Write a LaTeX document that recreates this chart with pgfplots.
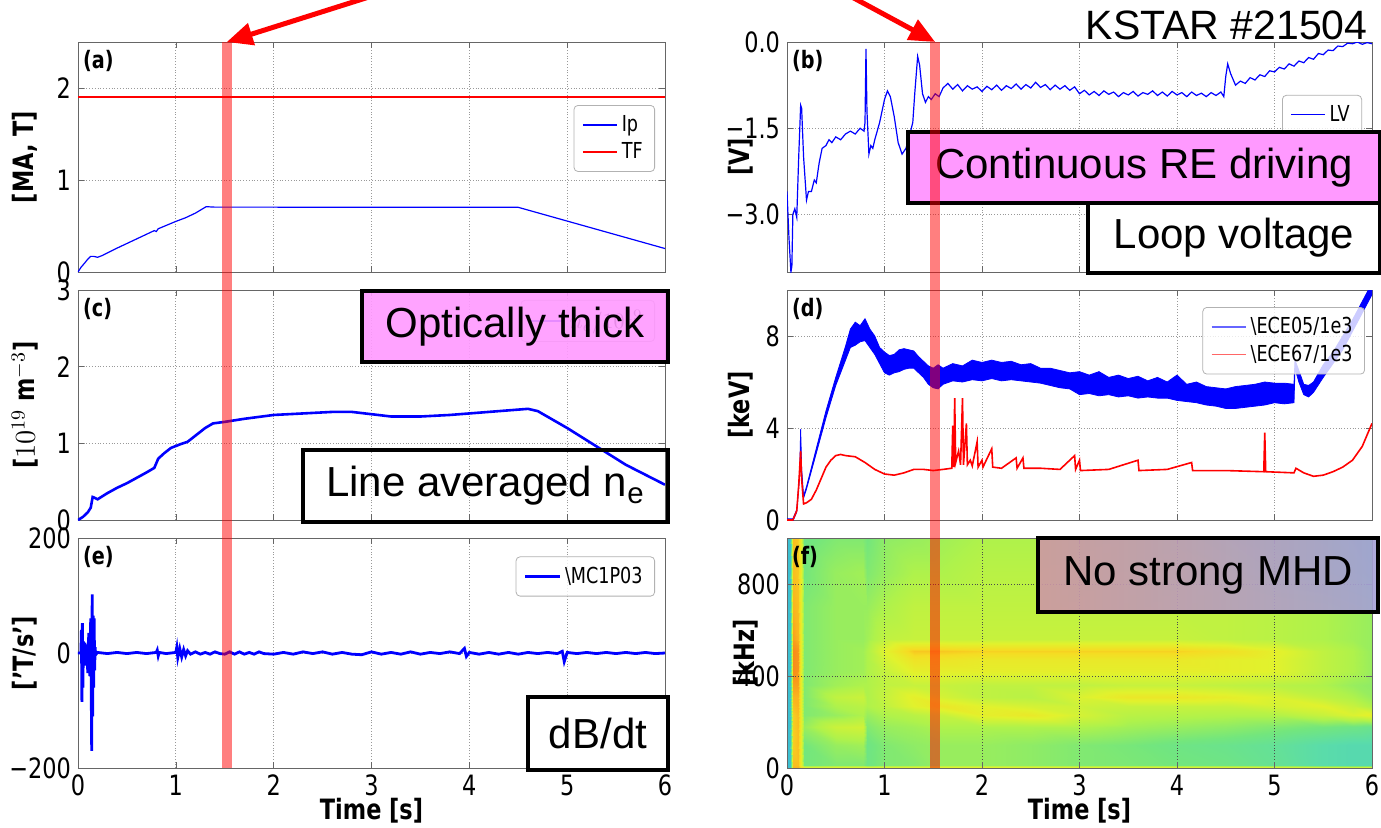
\documentclass[border=0pt]{standalone}
\usepackage{pgfplots}
\pgfplotsset{compat=1.18}
\usetikzlibrary{arrows.meta}
\usepackage{fontspec}
\setmainfont{DejaVu Sans}[FakeStretch=0.8]
\newfontfamily\annot{Liberation Sans}
\definecolor{mag}{RGB}{255,153,255}
\definecolor{mhdL}{RGB}{205,150,165}
\definecolor{mhdR}{RGB}{165,160,215}
\newcommand\tfont{\fontsize{14}{16}\selectfont}
\newcommand\lfont{\fontsize{14}{16}\selectfont\bfseries}
\newcommand\pfont{\fontsize{12}{14}\selectfont\bfseries}
\newcommand\gfont{\fontsize{11}{13}\selectfont}
\newcommand\afont{\annot\fontsize{21}{24}\selectfont}
\pgfplotsset{
  panel/.style={scale only axis, height=115pt, xmin=0, xmax=6,
    xtick={0,1,2,3,4,5,6}, xticklabels={}, grid=major,
    grid style={densely dotted, gray!80}, axis line style={black!60},
    tick style={black!60}, tick align=inside, major tick length=3pt,
    tick label style={font=\tfont}, label style={font=\lfont},
    xlabel style={at={(rel axis cs:0.5,0)}, anchor=center, yshift=-21.5pt},
    legend cell align=left,
    legend style={font=\gfont, draw=black!30, rounded corners=2pt, fill=white,
      fill opacity=0.8, text opacity=1, anchor=north east, inner xsep=4pt, inner ysep=3pt},
    every axis plot/.append style={no markers}},
  L/.style={panel, width=293.5pt, ylabel style={at={(rel axis cs:-0.09,0.5)}, anchor=center}},
  R/.style={panel, width=292.5pt, ylabel style={at={(rel axis cs:-0.079,0.5)}, anchor=center}},
}
\begin{document}
\begin{tikzpicture}
\useasboundingbox (0,0) rectangle (690.5pt,413.5pt);
% (a)
\begin{axis}[L, at={(39pt,277.5pt)}, anchor=south west, ymin=0, ymax=2.5,
  ytick={0,1,2}, yticklabels={0,1,2}, ylabel={[MA, T]},
  legend style={at={(rel axis cs:0.983,0.726)}}]
\addplot[color=blue, line width=0.6pt] coordinates {(0,0) (0.03,0.05) (0.07,0.10) (0.1,0.14) (0.13,0.17) (0.16,0.17) (0.2,0.16) (0.25,0.18) (0.4,0.26) (0.6,0.36) (0.78,0.45) (0.8,0.44) (0.82,0.47) (1.0,0.55) (1.1,0.59) (1.2,0.64) (1.31,0.71) (1.4,0.705) (2,0.705) (3,0.703) (4,0.703) (4.5,0.703) (6.0,0.255)};
\addlegendentry{Ip}
\addplot[color=red, line width=0.8pt] coordinates {(0,1.9) (6,1.9)};
\addlegendentry{TF}
\node[anchor=north west, font=\pfont, inner sep=0pt] at (rel axis cs:0.008,0.965) {(a)};
\end{axis}
% (c)
\begin{axis}[L, at={(39pt,153.5pt)}, anchor=south west, ymin=0, ymax=3,
  ytick={0,1,2,3}, yticklabels={0,1,2,3}, ylabel={[$10^{19}$ m$^{-3}$]},
  legend style={at={(rel axis cs:0.983,0.957)}}]
\addplot[color=blue, line width=1.3pt] coordinates {(0,0) (0.05,0.04) (0.1,0.1) (0.13,0.16) (0.15,0.3) (0.17,0.29) (0.2,0.27) (0.3,0.35) (0.4,0.42) (0.5,0.48) (0.6,0.55) (0.7,0.62) (0.78,0.68) (0.82,0.8) (0.88,0.87) (0.95,0.94) (1.05,0.99) (1.12,1.02) (1.2,1.1) (1.3,1.2) (1.38,1.26) (1.5,1.28) (1.7,1.32) (2.0,1.37) (2.3,1.39) (2.6,1.41) (2.8,1.41) (3.0,1.38) (3.2,1.35) (3.5,1.35) (3.8,1.37) (4.1,1.4) (4.4,1.43) (4.6,1.45) (4.7,1.42) (5.0,1.2) (5.3,0.96) (5.6,0.72) (6.0,0.46)};
\addlegendentry{$\bar{n}_e/10^{19}$}
\node[anchor=north west, font=\pfont, inner sep=0pt] at (rel axis cs:0.008,0.965) {(c)};
\end{axis}
% (e)
\begin{axis}[L, at={(39pt,29.5pt)}, anchor=south west, ymin=-200, ymax=200,
  ytick={-200,0,200}, yticklabels={−200,0,200}, ylabel={['T/s']},
  xticklabels={0,1,2,3,4,5,6}, xlabel={Time [s]},
  legend style={at={(rel axis cs:0.983,0.92)}}]
\addplot[color=blue, line width=1.4pt] coordinates {(0,0) (0.03,0) (0.035,40) (0.04,-85) (0.045,52) (0.05,-60) (0.055,20) (0.06,-15) (0.07,18) (0.08,-22) (0.09,15) (0.1,-35) (0.11,35) (0.12,-40) (0.13,60) (0.14,-170) (0.145,102) (0.15,-110) (0.155,65) (0.16,-60) (0.165,60) (0.17,-30) (0.175,10) (0.18,-3) (0.2,1) (0.3,-1) (0.4,1) (0.5,-1) (0.6,1) (0.7,-1) (0.8,1) (0.81,5) (0.82,-5) (0.83,1) (0.9,-1) (1.0,1) (1.01,10) (1.02,-8) (1.04,8) (1.06,-7) (1.08,6) (1.1,-5) (1.12,4) (1.15,-2) (1.2,2) (1.25,-2) (1.3,1) (1.35,-2) (1.4,2) (1.45,-1) (1.5,-2) (1.55,2) (1.6,-2) (1.65,2) (1.7,-2) (1.75,1) (1.8,-2) (1.85,2) (1.9,-1) (2.0,-2) (2.1,1) (2.2,-2) (2.3,2) (2.4,-1) (2.5,2) (2.6,-2) (2.7,1) (2.8,-2) (2.9,-3) (3.0,2) (3.1,-2) (3.2,1) (3.3,-2) (3.4,2) (3.5,-2) (3.6,1) (3.7,-1) (3.8,2) (3.9,-1) (3.95,8) (3.97,-6) (4.0,1) (4.1,-2) (4.2,1) (4.3,-2) (4.4,1) (4.5,-2) (4.6,1) (4.7,-1) (4.8,1) (4.9,-1) (4.95,3) (4.97,-15) (5.0,1) (5.1,-1) (5.2,1) (5.3,-1) (5.4,1) (5.5,-1) (5.6,1) (5.7,-1) (5.8,1) (5.9,-1) (6.0,0)};
\addlegendentry{\textbackslash MC1P03}
\node[anchor=north west, font=\pfont, inner sep=0pt] at (rel axis cs:0.008,0.965) {(e)};
\end{axis}
% (b)
\begin{axis}[R, at={(393.5pt,277.5pt)}, anchor=south west, ymin=-4, ymax=0,
  ytick={-3,-1.5,0}, yticklabels={−3.0,−1.5,0.0}, ylabel={[V]},
  legend style={at={(rel axis cs:0.983,0.77)}}]
\addplot[color=blue, line width=0.6pt] coordinates {(0.0,-2.6) (0.02,-3.4) (0.04,-4.0) (0.05,-3.9) (0.06,-3.0) (0.08,-2.9) (0.1,-3.05) (0.12,-2.0) (0.14,-1.1) (0.15,-1.15) (0.17,-2.0) (0.2,-2.75) (0.22,-2.6) (0.25,-2.6) (0.28,-2.4) (0.3,-2.45) (0.33,-2.1) (0.36,-1.85) (0.4,-1.8) (0.43,-1.7) (0.46,-1.75) (0.5,-1.65) (0.55,-1.7) (0.6,-1.6) (0.65,-1.55) (0.7,-1.6) (0.75,-1.5) (0.79,-1.55) (0.8,-1.4) (0.81,-0.12) (0.82,-1.2) (0.84,-1.95) (0.86,-1.8) (0.88,-1.85) (0.9,-1.7) (0.95,-1.4) (1.0,-1.0) (1.03,-0.85) (1.06,-0.95) (1.1,-1.3) (1.14,-1.75) (1.18,-1.95) (1.22,-1.85) (1.26,-1.6) (1.29,-1.4) (1.31,-0.9) (1.34,-0.25) (1.36,-0.4) (1.39,-0.9) (1.42,-1.05) (1.45,-0.95) (1.48,-1.0) (1.52,-0.9) (1.56,-0.95)
(1.60,-0.80) (1.65,-0.72) (1.70,-0.82) (1.75,-0.74) (1.80,-0.85) (1.85,-0.76) (1.90,-0.82) (1.95,-0.78) (2.00,-0.86) (2.05,-0.77) (2.10,-0.83) (2.15,-0.75) (2.20,-0.84) (2.25,-0.76) (2.30,-0.81) (2.35,-0.73) (2.40,-0.82) (2.45,-0.74) (2.50,-0.80) (2.55,-0.70) (2.60,-0.79) (2.65,-0.74) (2.70,-0.83) (2.75,-0.75) (2.80,-0.82) (2.85,-0.76) (2.90,-0.84) (2.95,-0.78) (3.00,-0.90) (3.05,-0.84) (3.10,-0.92) (3.15,-0.86) (3.2,-0.93) (3.25,-0.85) (3.3,-0.91) (3.35,-0.87) (3.4,-0.95) (3.45,-0.88) (3.5,-0.92) (3.55,-0.86) (3.6,-0.94) (3.65,-0.88) (3.7,-0.91) (3.75,-0.85) (3.8,-0.93) (3.85,-0.87) (3.9,-0.94) (3.95,-0.86) (4.0,-0.92) (4.05,-0.88) (4.1,-0.95) (4.15,-0.87) (4.2,-0.93) (4.25,-0.89) (4.3,-0.95) (4.35,-0.88) (4.4,-0.93) (4.45,-0.87) (4.48,-0.95) (4.5,-0.6) (4.52,-0.38) (4.55,-0.55) (4.6,-0.75) (4.65,-0.68) (4.7,-0.72) (4.75,-0.62) (4.8,-0.66) (4.85,-0.57) (4.9,-0.6) (4.95,-0.5) (5.0,-0.52) (5.05,-0.44) (5.1,-0.47) (5.15,-0.38) (5.2,-0.42) (5.25,-0.33) (5.3,-0.36) (5.35,-0.27) (5.4,-0.3) (5.45,-0.2) (5.5,-0.22) (5.55,-0.14) (5.6,-0.15) (5.65,-0.07) (5.7,-0.08) (5.75,-0.02) (5.8,-0.03) (5.85,0.0) (5.9,-0.04) (5.95,-0.01) (6.0,-0.03)};
\addlegendentry{LV}
\node[anchor=north west, font=\pfont, inner sep=0pt] at (rel axis cs:0.008,0.965) {(b)};
\end{axis}
% (d)
\begin{axis}[R, at={(393.5pt,153.5pt)}, anchor=south west, ymin=0, ymax=10,
  ytick={0,4,8}, yticklabels={0,4,8}, ylabel={[keV]},
  legend style={at={(rel axis cs:0.988,0.926)}}]
\addplot[color=blue, fill=blue, line width=0.4pt, forget plot] coordinates {(0,0.05) (0.06,0.05) (0.1,0.45) (0.13,2.05) (0.14,3.95) (0.15,2.25) (0.17,1.05) (0.2,1.45) (0.3,3.1) (0.4,4.75) (0.5,6.2) (0.6,7.55) (0.65,8.3) (0.7,8.6) (0.75,8.45) (0.8,8.75) (0.85,8.3) (0.9,8.0) (0.95,7.5) (1.0,7.3) (1.05,7.15) (1.1,7.2) (1.15,7.4) (1.2,7.45) (1.25,7.4) (1.3,7.35) (1.35,7.1) (1.4,6.9) (1.45,6.7) (1.5,6.6) (1.55,6.75) (1.6,6.6) (1.7,6.8) (1.8,6.7) (1.9,6.95) (2.0,6.85) (2.1,6.95) (2.2,6.85) (2.3,6.9) (2.4,6.75) (2.5,6.8) (2.6,6.6) (2.7,6.6) (2.8,6.5) (2.9,6.4) (3.0,6.45) (3.1,6.3) (3.2,6.45) (3.3,6.2) (3.4,6.3) (3.5,6.15) (3.6,6.25) (3.7,6.05) (3.8,6.2) (3.9,6.0) (4.0,6.3) (4.1,5.9) (4.2,6.0) (4.3,5.8) (4.4,5.75) (4.5,5.7) (4.6,5.8) (4.7,5.85) (4.8,5.9) (4.9,6.0) (5.0,5.95) (5.1,5.95) (5.2,5.9) (5.21,6.95) (5.25,6.5) (5.3,5.9) (5.35,5.85) (5.4,6.0) (5.5,6.75) (5.6,7.3) (5.7,8.0) (5.8,8.7) (5.9,9.5) (6.0,10.3)
(6.0,9.8) (5.9,9.0) (5.8,8.2) (5.7,7.4) (5.6,6.8) (5.5,6.2) (5.4,5.55) (5.35,5.35) (5.3,5.45) (5.25,6.0) (5.21,6.6) (5.2,5.1) (5.1,5.05) (5.0,5.1) (4.9,5.0) (4.8,4.95) (4.7,4.9) (4.6,4.85) (4.5,4.85) (4.4,4.95) (4.3,5.0) (4.2,5.1) (4.1,5.15) (4.0,5.2) (3.9,5.3) (3.8,5.3) (3.7,5.35) (3.6,5.3) (3.5,5.4) (3.4,5.35) (3.3,5.45) (3.2,5.4) (3.1,5.5) (3.0,5.45) (2.9,5.7) (2.8,5.75) (2.7,5.85) (2.6,5.95) (2.5,6.0) (2.4,6.05) (2.3,6.1) (2.2,6.05) (2.1,6.15) (2.0,6.05) (1.9,6.1) (1.8,6.0) (1.7,6.05) (1.6,5.9) (1.55,5.7) (1.5,5.75) (1.45,5.9) (1.4,6.2) (1.35,6.4) (1.3,6.6) (1.25,6.6) (1.2,6.55) (1.15,6.45) (1.1,6.4) (1.05,6.3) (1.0,6.4) (0.95,6.8) (0.9,7.2) (0.85,7.5) (0.8,7.8) (0.75,7.75) (0.7,7.6) (0.65,7.5) (0.6,6.95) (0.5,5.85) (0.4,4.45) (0.3,2.9) (0.2,1.35) (0.17,0.95) (0.15,2.15) (0.14,3.85) (0.13,1.95) (0.1,0.35) (0.06,-0.05) (0,-0.05)};
\addplot[color=red, line width=0.8pt, forget plot] coordinates {(0,0) (0.06,0) (0.1,0.4) (0.12,1.5) (0.14,3.0) (0.15,1.8) (0.17,0.7) (0.2,0.75) (0.25,0.9) (0.3,1.3) (0.35,1.8) (0.4,2.3) (0.45,2.6) (0.5,2.8) (0.55,2.85) (0.6,2.8) (0.7,2.75) (0.8,2.5) (0.9,2.2) (1.0,2.0) (1.1,1.95) (1.2,2.05) (1.3,2.2) (1.4,2.2) (1.5,2.15) (1.6,2.2) (1.69,2.25) (1.7,4.1) (1.71,2.3) (1.72,5.3) (1.73,2.5) (1.76,3.0) (1.78,2.4) (1.8,5.3) (1.81,2.4) (1.84,4.2) (1.85,2.4) (1.88,2.6) (1.9,2.35) (1.95,3.4) (1.96,2.3) (2.0,2.6) (2.01,2.3) (2.1,3.1) (2.11,2.3) (2.2,2.25) (2.35,2.7) (2.36,2.25) (2.42,2.7) (2.43,2.25) (2.6,2.25) (2.8,2.2) (2.95,2.8) (2.96,2.2) (3.0,2.6) (3.01,2.15) (3.3,2.2) (3.6,2.6) (3.61,2.15) (3.9,2.2) (4.15,2.5) (4.16,2.15) (4.5,2.15) (4.89,2.1) (4.9,3.8) (4.91,2.1) (5.2,2.05) (5.22,2.25) (5.3,2.05) (5.4,1.9) (5.5,1.95) (5.6,2.1) (5.7,2.3) (5.8,2.6) (5.9,3.2) (6.0,4.2)};
\addlegendimage{blue!60, line width=0.8pt}
\addlegendentry{\textbackslash ECE05/1e3}
\addlegendimage{red!60, line width=0.8pt}
\addlegendentry{\textbackslash ECE67/1e3}
\node[anchor=north west, font=\pfont, inner sep=0pt] at (rel axis cs:0.008,0.965) {(d)};
\end{axis}
% (f)
\begin{axis}[R, at={(393.5pt,29.5pt)}, anchor=south west, ymin=0, ymax=1000,
  ytick={0,400,800}, yticklabels={0,400,800}, ylabel={[kHz]},
  ylabel style={at={(rel axis cs:-0.07,0.5)}},
  xticklabels={0,1,2,3,4,5,6}, xlabel={Time [s]}, axis on top,
  grid style={densely dotted, black!70},
  colormap={spec}{rgb255(0cm)=(40,170,235); rgb255(3cm)=(90,220,170); rgb255(4.2cm)=(115,230,125); rgb255(5.5cm)=(175,242,75); rgb255(7cm)=(225,242,45); rgb255(8.2cm)=(245,220,35); rgb255(9cm)=(250,180,30); rgb255(10cm)=(245,80,20)},
  point meta min=0, point meta max=1]
\addplot[surf, shader=interp, mesh/cols=22, mesh/rows=15, point meta=explicit] table[row sep=\\, meta index=2] {
t f c\\
0 0 0.1\\ 0.03 0 0.15\\ 0.06 0 0.9\\ 0.11 0 0.9\\ 0.14 0 0.8\\ 0.17 0 0.8\\ 0.5 0 0.8\\ 0.78 0 0.8\\ 0.82 0 0.8\\ 1.0 0 0.8\\ 1.3 0 0.8\\ 1.6 0 0.8\\ 2.0 0 0.8\\ 2.5 0 0.8\\ 3.0 0 0.8\\ 3.5 0 0.8\\ 4.0 0 0.8\\ 4.5 0 0.8\\ 5.0 0 0.8\\ 5.5 0 0.8\\ 5.8 0 0.8\\ 6.0 0 0.8\\
0 12 0.1\\ 0.03 12 0.15\\ 0.06 12 0.88\\ 0.11 12 0.88\\ 0.14 12 0.72\\ 0.17 12 0.42\\ 0.5 12 0.45\\ 0.78 12 0.45\\ 0.82 12 0.4\\ 1.0 12 0.45\\ 1.3 12 0.46\\ 1.6 12 0.5\\ 2.0 12 0.5\\ 2.5 12 0.48\\ 3.0 12 0.45\\ 3.5 12 0.44\\ 4.0 12 0.42\\ 4.5 12 0.4\\ 5.0 12 0.36\\ 5.5 12 0.3\\ 5.8 12 0.28\\ 6.0 12 0.28\\
0 100 0.1\\ 0.03 100 0.15\\ 0.06 100 0.85\\ 0.11 100 0.88\\ 0.14 100 0.72\\ 0.17 100 0.42\\ 0.5 100 0.5\\ 0.78 100 0.52\\ 0.82 100 0.4\\ 1.0 100 0.45\\ 1.3 100 0.48\\ 1.6 100 0.5\\ 2.0 100 0.5\\ 2.5 100 0.48\\ 3.0 100 0.45\\ 3.5 100 0.43\\ 4.0 100 0.4\\ 4.5 100 0.38\\ 5.0 100 0.35\\ 5.5 100 0.3\\ 5.8 100 0.28\\ 6.0 100 0.28\\
0 180 0.1\\ 0.03 180 0.15\\ 0.06 180 0.85\\ 0.11 180 0.88\\ 0.14 180 0.72\\ 0.17 180 0.5\\ 0.5 180 0.63\\ 0.78 180 0.65\\ 0.82 180 0.45\\ 1.0 180 0.5\\ 1.3 180 0.52\\ 1.6 180 0.55\\ 2.0 180 0.55\\ 2.5 180 0.55\\ 3.0 180 0.55\\ 3.5 180 0.52\\ 4.0 180 0.5\\ 4.5 180 0.48\\ 5.0 180 0.45\\ 5.5 180 0.42\\ 5.8 180 0.4\\ 6.0 180 0.38\\
0 230 0.1\\ 0.03 230 0.15\\ 0.06 230 0.85\\ 0.11 230 0.88\\ 0.14 230 0.72\\ 0.17 230 0.45\\ 0.5 230 0.5\\ 0.78 230 0.55\\ 0.82 230 0.5\\ 1.0 230 0.55\\ 1.3 230 0.58\\ 1.6 230 0.62\\ 2.0 230 0.72\\ 2.5 230 0.75\\ 3.0 230 0.66\\ 3.5 230 0.58\\ 4.0 230 0.57\\ 4.5 230 0.56\\ 5.0 230 0.56\\ 5.5 230 0.62\\ 5.8 230 0.68\\ 6.0 230 0.72\\
0 270 0.1\\ 0.03 270 0.15\\ 0.06 270 0.88\\ 0.11 270 0.9\\ 0.14 270 0.72\\ 0.17 270 0.45\\ 0.5 270 0.55\\ 0.78 270 0.58\\ 0.82 270 0.55\\ 1.0 270 0.6\\ 1.3 270 0.7\\ 1.6 270 0.76\\ 2.0 270 0.7\\ 2.5 270 0.66\\ 3.0 270 0.64\\ 3.5 270 0.62\\ 4.0 270 0.62\\ 4.5 270 0.62\\ 5.0 270 0.66\\ 5.5 270 0.7\\ 5.8 270 0.62\\ 6.0 270 0.55\\
0 310 0.1\\ 0.03 310 0.15\\ 0.06 310 0.9\\ 0.11 310 0.9\\ 0.14 310 0.72\\ 0.17 310 0.45\\ 0.5 310 0.6\\ 0.78 310 0.63\\ 0.82 310 0.55\\ 1.0 310 0.62\\ 1.3 310 0.72\\ 1.6 310 0.66\\ 2.0 310 0.6\\ 2.5 310 0.58\\ 3.0 310 0.68\\ 3.5 310 0.76\\ 4.0 310 0.76\\ 4.5 310 0.73\\ 5.0 310 0.68\\ 5.5 310 0.6\\ 5.8 310 0.55\\ 6.0 310 0.5\\
0 360 0.1\\ 0.03 360 0.15\\ 0.06 360 0.92\\ 0.11 360 0.92\\ 0.14 360 0.72\\ 0.17 360 0.45\\ 0.5 360 0.52\\ 0.78 360 0.55\\ 0.82 360 0.55\\ 1.0 360 0.6\\ 1.3 360 0.62\\ 1.6 360 0.62\\ 2.0 360 0.6\\ 2.5 360 0.6\\ 3.0 360 0.6\\ 3.5 360 0.62\\ 4.0 360 0.62\\ 4.5 360 0.6\\ 5.0 360 0.58\\ 5.5 360 0.55\\ 5.8 360 0.5\\ 6.0 360 0.48\\
0 420 0.1\\ 0.03 420 0.15\\ 0.06 420 0.94\\ 0.11 420 0.93\\ 0.14 420 0.72\\ 0.17 420 0.45\\ 0.5 420 0.5\\ 0.78 420 0.52\\ 0.82 420 0.55\\ 1.0 420 0.62\\ 1.3 420 0.72\\ 1.6 420 0.72\\ 2.0 420 0.72\\ 2.5 420 0.72\\ 3.0 420 0.72\\ 3.5 420 0.72\\ 4.0 420 0.72\\ 4.5 420 0.72\\ 5.0 420 0.7\\ 5.5 420 0.6\\ 5.8 420 0.55\\ 6.0 420 0.5\\
0 470 0.1\\ 0.03 470 0.15\\ 0.06 470 0.94\\ 0.11 470 0.93\\ 0.14 470 0.72\\ 0.17 470 0.45\\ 0.5 470 0.5\\ 0.78 470 0.52\\ 0.82 470 0.55\\ 1.0 470 0.66\\ 1.3 470 0.78\\ 1.6 470 0.77\\ 2.0 470 0.75\\ 2.5 470 0.75\\ 3.0 470 0.75\\ 3.5 470 0.75\\ 4.0 470 0.75\\ 4.5 470 0.72\\ 5.0 470 0.7\\ 5.5 470 0.6\\ 5.8 470 0.55\\ 6.0 470 0.5\\
0 510 0.1\\ 0.03 510 0.15\\ 0.06 510 0.94\\ 0.11 510 0.93\\ 0.14 510 0.72\\ 0.17 510 0.45\\ 0.5 510 0.5\\ 0.78 510 0.52\\ 0.82 510 0.55\\ 1.0 510 0.7\\ 1.3 510 0.86\\ 1.6 510 0.86\\ 2.0 510 0.84\\ 2.5 510 0.84\\ 3.0 510 0.84\\ 3.5 510 0.84\\ 4.0 510 0.84\\ 4.5 510 0.8\\ 5.0 510 0.72\\ 5.5 510 0.6\\ 5.8 510 0.55\\ 6.0 510 0.5\\
0 560 0.1\\ 0.03 560 0.15\\ 0.06 560 0.92\\ 0.11 560 0.9\\ 0.14 560 0.72\\ 0.17 560 0.45\\ 0.5 560 0.5\\ 0.78 560 0.5\\ 0.82 560 0.52\\ 1.0 560 0.6\\ 1.3 560 0.62\\ 1.6 560 0.62\\ 2.0 560 0.62\\ 2.5 560 0.62\\ 3.0 560 0.62\\ 3.5 560 0.62\\ 4.0 560 0.62\\ 4.5 560 0.6\\ 5.0 560 0.58\\ 5.5 560 0.55\\ 5.8 560 0.52\\ 6.0 560 0.5\\
0 700 0.1\\ 0.03 700 0.15\\ 0.06 700 0.9\\ 0.11 700 0.88\\ 0.14 700 0.72\\ 0.17 700 0.45\\ 0.5 700 0.5\\ 0.78 700 0.5\\ 0.82 700 0.5\\ 1.0 700 0.55\\ 1.3 700 0.6\\ 1.6 700 0.6\\ 2.0 700 0.6\\ 2.5 700 0.6\\ 3.0 700 0.6\\ 3.5 700 0.6\\ 4.0 700 0.6\\ 4.5 700 0.6\\ 5.0 700 0.58\\ 5.5 700 0.55\\ 5.8 700 0.52\\ 6.0 700 0.5\\
0 850 0.1\\ 0.03 850 0.15\\ 0.06 850 0.88\\ 0.11 850 0.86\\ 0.14 850 0.72\\ 0.17 850 0.42\\ 0.5 850 0.5\\ 0.78 850 0.52\\ 0.82 850 0.45\\ 1.0 850 0.5\\ 1.3 850 0.55\\ 1.6 850 0.55\\ 2.0 850 0.58\\ 2.5 850 0.58\\ 3.0 850 0.58\\ 3.5 850 0.58\\ 4.0 850 0.58\\ 4.5 850 0.55\\ 5.0 850 0.5\\ 5.5 850 0.48\\ 5.8 850 0.45\\ 6.0 850 0.42\\
0 1000 0.1\\ 0.03 1000 0.15\\ 0.06 1000 0.88\\ 0.11 1000 0.86\\ 0.14 1000 0.72\\ 0.17 1000 0.4\\ 0.5 1000 0.45\\ 0.78 1000 0.45\\ 0.82 1000 0.42\\ 1.0 1000 0.48\\ 1.3 1000 0.5\\ 1.6 1000 0.52\\ 2.0 1000 0.55\\ 2.5 1000 0.55\\ 3.0 1000 0.55\\ 3.5 1000 0.55\\ 4.0 1000 0.55\\ 4.5 1000 0.5\\ 5.0 1000 0.48\\ 5.5 1000 0.45\\ 5.8 1000 0.42\\ 6.0 1000 0.4\\
};
\node[anchor=north west, font=\pfont, inner sep=0pt] at (rel axis cs:0.008,0.965) {(f)};
\end{axis}
% annotation boxes
\node[draw=black, line width=2pt, fill=mag, minimum width=236pt, minimum height=35.5pt, inner sep=0pt, font=\afont] at (572pt,329.75pt) {Continuous RE driving};
\node[draw=black, line width=2pt, fill=white, minimum width=146pt, minimum height=35pt, inner sep=0pt, font=\afont] at (617pt,294.5pt) {Loop voltage};
\node[draw=black, line width=2pt, fill=mag, fill opacity=0.9, text opacity=1, minimum width=153pt, minimum height=35.5pt, inner sep=0pt, font=\afont] at (257.5pt,250.25pt) {Optically thick};
\node[draw=black, line width=2pt, minimum width=182.5pt, minimum height=36pt, inner sep=0pt, font=\afont] at (242.75pt,170.5pt) {Line averaged n\textsubscript{e}};
\node[draw=black, line width=2pt, fill=white, minimum width=70pt, minimum height=36.5pt, inner sep=0pt, font=\afont] at (299pt,46.75pt) {dB/dt};
\node[draw=black, line width=2pt, left color=mhdL, right color=mhdR, fill opacity=0.9, text opacity=1, minimum width=170pt, minimum height=37pt, inner sep=0pt, font=\afont] at (604pt,126pt) {No strong MHD};
% overlay: time marker bands and arrows
\begin{axis}[at={(39pt,29.5pt)}, anchor=south west, scale only axis, width=293.5pt, height=363pt, xmin=0, xmax=6, ymin=0, ymax=1, hide axis, clip=false]
\addplot[draw=none, fill=red, fill opacity=0.5] coordinates {(1.47,0) (1.57,0) (1.57,1) (1.47,1)};
\draw[red, line width=2.5pt, -{Triangle[length=13pt, width=11pt]}] (axis cs:3.56,1.087) -- (axis cs:1.52,1.0);
\end{axis}
\begin{axis}[at={(393.5pt,29.5pt)}, anchor=south west, scale only axis, width=292.5pt, height=363pt, xmin=0, xmax=6, ymin=0, ymax=1, hide axis, clip=false]
\addplot[draw=none, fill=red, fill opacity=0.5] coordinates {(1.47,0) (1.57,0) (1.57,1) (1.47,1)};
\draw[red, line width=2.5pt, -{Triangle[length=13pt, width=11pt]}] (axis cs:0.28,1.09) -- (axis cs:1.52,1.0);
\end{axis}
\node[anchor=base east, font=\annot\fontsize{20.5}{24}\selectfont, inner sep=0pt] at (684pt,393.5pt) {KSTAR \#21504};
\end{tikzpicture}
\end{document}
